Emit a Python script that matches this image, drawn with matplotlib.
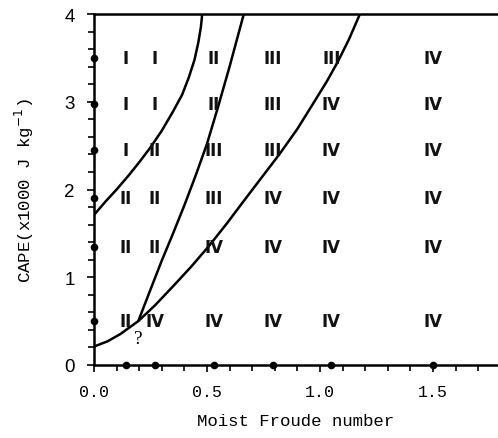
import matplotlib
matplotlib.use("Agg")
import matplotlib.pyplot as plt
from matplotlib.ticker import MultipleLocator

# experiment grid: moist Froude number (columns) x CAPE (rows)
froude = [0.14, 0.27, 0.53, 0.79, 1.05, 1.5]
cape = [3.5, 2.98, 2.45, 1.9, 1.35, 0.5]
regimes = [
    ["I", "I", "II", "III", "III", "IV"],
    ["I", "I", "II", "III", "IV", "IV"],
    ["I", "II", "III", "III", "IV", "IV"],
    ["II", "II", "III", "IV", "IV", "IV"],
    ["II", "II", "IV", "IV", "IV", "IV"],
    ["II", "IV", "IV", "IV", "IV", "IV"],
]

# regime boundaries
b1_x = [0.0, 0.05, 0.10, 0.15, 0.20, 0.25, 0.30, 0.35, 0.39, 0.42, 0.445, 0.462, 0.473, 0.479]
b1_y = [1.71, 1.86, 2.00, 2.15, 2.31, 2.48, 2.67, 2.89, 3.08, 3.28, 3.48, 3.68, 3.85, 4.0]
b2_x = [0.196, 0.25, 0.30, 0.35, 0.40, 0.45, 0.50, 0.55, 0.60, 0.663]
b2_y = [0.50, 0.86, 1.19, 1.50, 1.82, 2.16, 2.52, 2.95, 3.40, 4.0]
b3_x = [0.0, 0.06, 0.115, 0.196, 0.27, 0.351, 0.43, 0.51, 0.59, 0.66, 0.74,
        0.82, 0.90, 0.97, 1.03, 1.08, 1.13, 1.177]
b3_y = [0.21, 0.27, 0.35, 0.50, 0.68, 0.90, 1.12, 1.36, 1.62, 1.86, 2.13,
        2.40, 2.69, 2.98, 3.23, 3.46, 3.72, 4.0]

fig = plt.figure(figsize=(4.98, 4.39), dpi=100)
ax = fig.add_axes([94 / 498, 73 / 439, 1 - 94 / 498, 351 / 439])

for bx, by in [(b1_x, b1_y), (b2_x, b2_y), (b3_x, b3_y)]:
    ax.plot(bx, by, color="black", lw=1.8, solid_capstyle="butt", solid_joinstyle="round")

for i, c in enumerate(cape):
    for j, f in enumerate(froude):
        ax.text(f, c, regimes[i][j], ha="center", va="center", fontsize=12,
                fontweight="bold", family="Liberation Sans Narrow", color="#111111")
ax.text(0.196, 0.30, "?", ha="center", va="center", fontsize=14,
        family="Liberation Serif")

# sample points on the axes
ax.plot([0] * len(cape), cape, "o", color="black", ms=4.5, clip_on=False, zorder=5)
ax.plot(froude, [0] * len(froude), "o", color="black", ms=4.5, clip_on=False, zorder=5)

ax.set_xlim(0, 1.788)
ax.set_ylim(0, 4)
ax.spines["right"].set_visible(False)
for s in ["left", "bottom", "top"]:
    ax.spines[s].set_linewidth(1.8)

ax.xaxis.set_major_locator(MultipleLocator(0.5))
ax.xaxis.set_minor_locator(MultipleLocator(0.1))
ax.yaxis.set_major_locator(MultipleLocator(1))
ax.yaxis.set_minor_locator(MultipleLocator(0.2))
ax.tick_params(which="both", direction="out", width=1.2, top=False, right=False)
ax.tick_params(which="major", length=5)
ax.tick_params(which="minor", length=4)
ax.tick_params(axis="x", which="major", pad=9)
ax.tick_params(axis="y", which="major", pad=9)

ax.set_xticks([0, 0.5, 1.0, 1.5])
ax.set_xticklabels(["0.0", "0.5", "1.0", "1.5"], family="Liberation Mono", fontsize=12)
ax.set_yticks([0, 1, 2, 3, 4])
ax.set_yticklabels(["0", "1", "2", "3", "4"], family="Liberation Sans", fontsize=13.5)

ax.set_xlabel("Moist Froude number", family="Liberation Mono", fontsize=12.5, labelpad=10)
ax.set_ylabel(r"CAPE(x1000 J kg$^{-1}$)", family="Liberation Mono", fontsize=12.5, labelpad=20)

fig.savefig("out.png", dpi=100)
